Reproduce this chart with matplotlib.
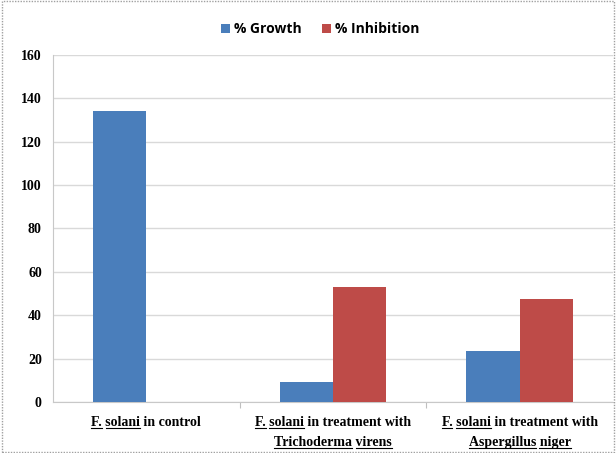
import matplotlib.pyplot as plt
from matplotlib.patches import Rectangle
from matplotlib.lines import Line2D
from matplotlib.font_manager import FontProperties
import numpy as np

# each category label: lines of words, words starting with "_" are underlined
categories = [
    [["_F.", "_solani", "in", "control"]],
    [["_F.", "_solani", "in", "treatment", "with"], ["_Trichoderma", "_virens"]],
    [["_F.", "_solani", "in", "treatment", "with"], ["_Aspergillus", "_niger"]],
]
growth = [134, 9, 23.5]
inhibition = [0, 53, 47.5]
y_ticks = [0, 20, 40, 60, 80, 100, 120, 140, 160]

fig = plt.figure(figsize=(6.16, 4.53), dpi=100)
ax = fig.add_axes([0.086, 0.1126, 0.909, 0.766])

x = np.arange(len(categories))
w = 0.285
ax.bar(x - w / 2, growth, w, color='#4a7ebb', label='% Growth', zorder=3)
ax.bar(x + w / 2, inhibition, w, color='#be4b48', label='% Inhibition', zorder=3)

ax.set_xlim(-0.5, 2.5)
ax.set_ylim(0, 160)
ax.set_yticks(y_ticks)
ax.set_yticklabels([str(t) for t in y_ticks], family='Liberation Serif',
                   fontweight='bold', fontsize=10)
ax.yaxis.grid(True, color='#d9d9d9', linewidth=1, zorder=0)
ax.tick_params(axis='y', length=0, pad=8)

ax.set_xticks([0.5, 1.5])
ax.set_xticklabels([])
ax.tick_params(axis='x', length=4, color='#bfbfbf', direction='out')

for s in ['top', 'right']:
    ax.spines[s].set_visible(False)
for s in ['left', 'bottom']:
    ax.spines[s].set_color('#c8c8c8')

font = FontProperties(family='Liberation Serif', weight='bold', size=10)
line_h = 20  # pixels between label lines
texts = []
for i, lines in enumerate(categories):
    for j, words in enumerate(lines):
        s = " ".join(wd.lstrip("_") for wd in words)
        xp, yp = ax.transData.transform((i, 0))
        t = fig.text(xp / fig.bbox.width, (yp - 14 - j * line_h) / fig.bbox.height, s,
                     ha='center', va='top', fontproperties=font)
        texts.append((t, words))

fig.legend(loc='upper center', bbox_to_anchor=(0.52, 0.978), ncol=2, frameon=False,
           prop={'family': 'Open Sans', 'weight': 'bold', 'size': 10},
           handlelength=0.6, handleheight=0.6, handletextpad=0.3, columnspacing=1.5)

fig.patches.append(Rectangle((0.003, 0.003), 0.994, 0.994, transform=fig.transFigure,
                             fill=False, edgecolor='#a0a0a0', linestyle=(0, (1, 1)),
                             linewidth=1))

# underline the italic-name words by measuring the drawn text
fig.canvas.draw()
r = fig.canvas.get_renderer()
for t, words in texts:
    bb = t.get_window_extent(r)
    x0 = bb.x0
    for k, wd in enumerate(words):
        prefix = " ".join(v.lstrip("_") for v in words[:k]) + (" " if k else "")
        pw = r.get_text_width_height_descent(prefix, font, ismath=False)[0] if prefix else 0
        ww = r.get_text_width_height_descent(wd.lstrip("_"), font, ismath=False)[0]
        if wd.startswith("_"):
            yy = bb.y0 + 1
            fig.add_artist(Line2D([(x0 + pw) / fig.bbox.width, (x0 + pw + ww) / fig.bbox.width],
                                  [yy / fig.bbox.height] * 2, transform=fig.transFigure,
                                  color='black', linewidth=0.8))

fig.savefig('out.png', dpi=100)
